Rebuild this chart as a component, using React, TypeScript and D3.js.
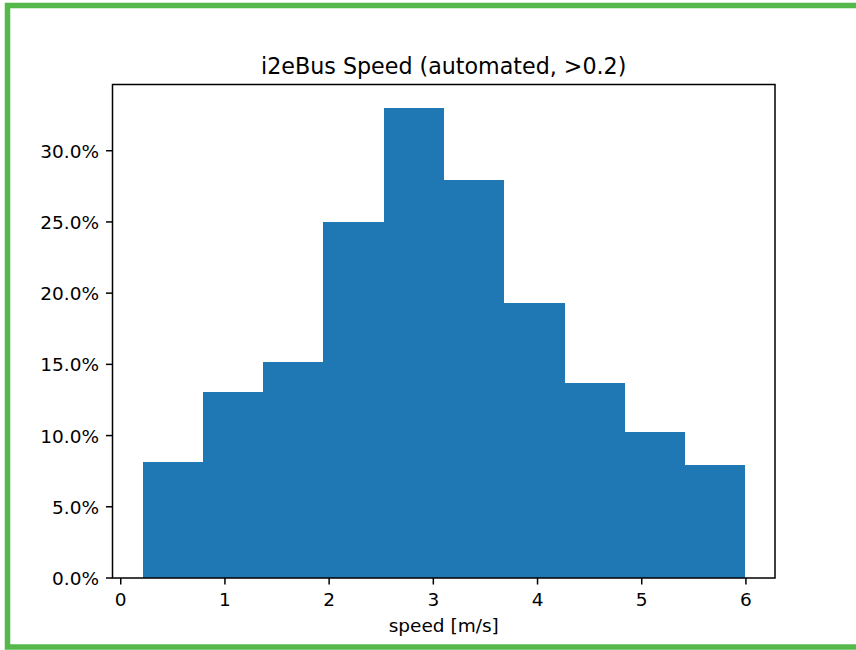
import React, { useEffect, useRef } from "react";
import * as d3 from "d3";

// histogram bins (speed in m/s, share in %)
const binEdges = [0.21, 0.788, 1.366, 1.944, 2.522, 3.1, 3.678, 4.256, 4.834, 5.412, 5.99];
const binShares = [8.14, 13.05, 15.2, 25.02, 33.0, 27.92, 19.3, 13.7, 10.22, 7.91];
const xTicks = [0, 1, 2, 3, 4, 5, 6];
const yTicks = [0, 5, 10, 15, 20, 25, 30];

const title = "i2eBus Speed (automated, >0.2)";
const xLabel = "speed [m/s]";

const App = () => {
  const ref = useRef<SVGSVGElement>(null);

  useEffect(() => {
    const width = 856;
    const height = 650;
    const left = 112.5;
    const right = 775;
    const top = 84.5;
    const bottom = 578;
    const font = "DejaVu Sans";
    const tickLen = 6.5;

    const svg = d3.select(ref.current);
    svg.selectAll("*").remove();

    svg.append("rect").attr("width", width).attr("height", height).attr("fill", "#fff");

    // green frame (right edge sits outside the picture)
    svg
      .append("rect")
      .attr("x", 7.5)
      .attr("y", 5.5)
      .attr("width", 880)
      .attr("height", 641.5)
      .attr("fill", "none")
      .attr("stroke", "#55b84b")
      .attr("stroke-width", 5.5);

    const xMin = d3.min(binEdges)!;
    const xMax = d3.max(binEdges)!;
    const pad = (xMax - xMin) * 0.05;
    const x = d3.scaleLinear().domain([xMin - pad, xMax + pad]).range([left, right]);
    const y = d3
      .scaleLinear()
      .domain([0, d3.max(binShares)! * 1.05])
      .range([bottom, top]);

    // bars
    svg
      .append("g")
      .attr("shape-rendering", "crispEdges")
      .selectAll("rect")
      .data(binShares)
      .join("rect")
      .attr("x", (_, i) => x(binEdges[i]))
      .attr("width", (_, i) => x(binEdges[i + 1]) - x(binEdges[i]) + 0.5)
      .attr("y", (d) => y(d))
      .attr("height", (d) => bottom - y(d))
      .attr("fill", "#1f77b4");

    // spines
    svg
      .append("rect")
      .attr("x", left)
      .attr("y", top)
      .attr("width", right - left)
      .attr("height", bottom - top)
      .attr("fill", "none")
      .attr("stroke", "#000")
      .attr("stroke-width", 1.5);

    // x ticks
    const gx = svg.append("g");
    xTicks.forEach((t) => {
      gx.append("line")
        .attr("x1", x(t))
        .attr("x2", x(t))
        .attr("y1", bottom)
        .attr("y2", bottom + tickLen)
        .attr("stroke", "#000")
        .attr("stroke-width", 1.5);
      gx.append("text")
        .attr("x", x(t))
        .attr("y", 606)
        .attr("text-anchor", "middle")
        .style("font-family", font)
        .style("font-size", "18.5px")
        .style("fill", "#000")
        .text(String(t));
    });

    // y ticks
    const gy = svg.append("g");
    yTicks.forEach((t) => {
      gy.append("line")
        .attr("x1", left - tickLen)
        .attr("x2", left)
        .attr("y1", y(t))
        .attr("y2", y(t))
        .attr("stroke", "#000")
        .attr("stroke-width", 1.5);
      gy.append("text")
        .attr("x", 99)
        .attr("y", y(t) + 7)
        .attr("text-anchor", "end")
        .style("font-family", font)
        .style("font-size", "18.5px")
        .style("fill", "#000")
        .text(`${t.toFixed(1)}%`);
    });

    svg
      .append("text")
      .attr("x", (left + right) / 2)
      .attr("y", 73.5)
      .attr("text-anchor", "middle")
      .style("font-family", font)
      .style("font-size", "22.2px")
      .style("fill", "#000")
      .text(title);

    svg
      .append("text")
      .attr("x", (left + right) / 2)
      .attr("y", 632)
      .attr("text-anchor", "middle")
      .style("font-family", font)
      .style("font-size", "18.5px")
      .style("fill", "#000")
      .text(xLabel);
  }, []);

  return (
    <svg
      ref={ref}
      width={856}
      height={650}
      style={{ position: "absolute", left: 0, top: 0, display: "block" }}
    />
  );
};

export default App;
